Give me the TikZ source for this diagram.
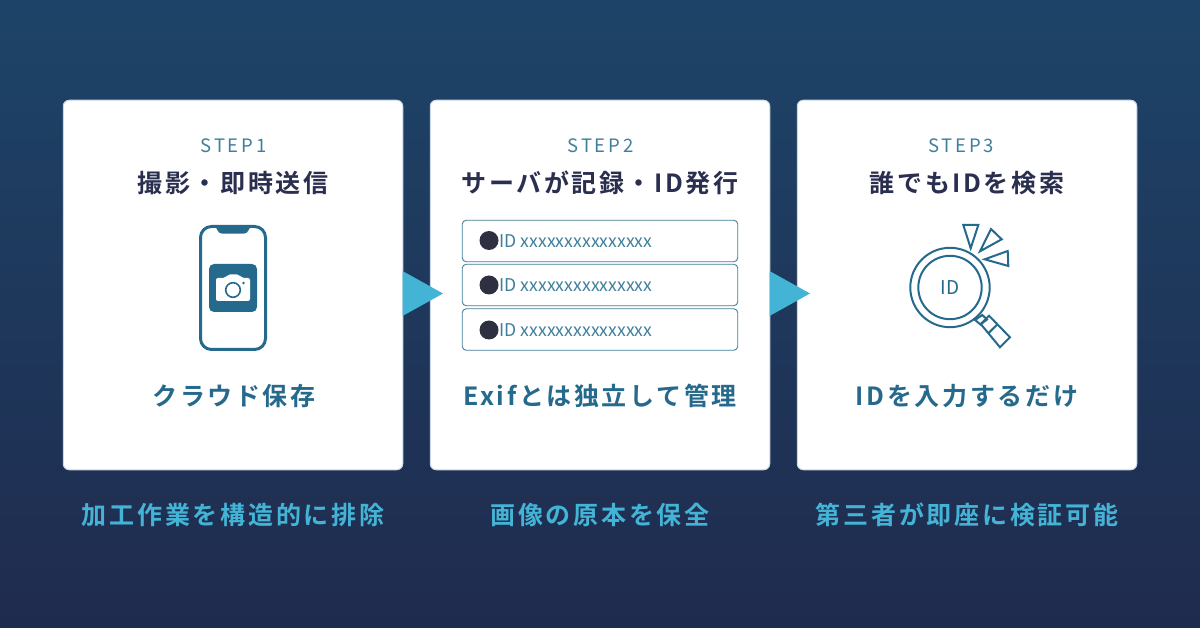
\documentclass[tikz,border=0pt]{standalone}
\usepackage{fontspec}
\setmainfont{Noto Sans CJK JP}
\newfontfamily\jpbold[LetterSpace=10.5]{Noto Sans CJK JP Bold}
\newfontfamily\jpfoot[LetterSpace=11]{Noto Sans CJK JP Bold}
\newfontfamily\jpstep[LetterSpace=15]{Noto Sans CJK JP}
\newfontfamily\jpid{Noto Sans CJK JP}
\definecolor{bgtop}{HTML}{1D4468}
\definecolor{bgbot}{HTML}{1F2B4E}
\definecolor{teal}{HTML}{256A8C}
\definecolor{stepc}{HTML}{3F7F9C}
\definecolor{navy}{HTML}{2A2F50}
\definecolor{sky}{HTML}{44B4D6}
\definecolor{edge}{HTML}{C9D6E6}
\definecolor{dotc}{HTML}{2E2F40}
\tikzset{
  card/.style={draw=edge,line width=1pt,fill=white,rounded corners=6pt,minimum width=339.5pt,minimum height=369.5pt,inner sep=0pt},
  steplabel/.style={text=stepc,font=\jpstep\fontsize{18.5}{20}\selectfont,inner sep=0pt},
  title/.style={text=navy,font=\jpbold\fontsize{25}{28}\selectfont,inner sep=0pt},
  sub/.style={text=teal,font=\jpbold\fontsize{25}{28}\selectfont,inner sep=0pt},
  foot/.style={text=sky,font=\jpfoot\fontsize{25}{28}\selectfont,inner sep=0pt},
  idbox/.style={draw=stepc,line width=0.9pt,fill=white,rounded corners=4pt,minimum width=275.5pt,minimum height=41.5pt,inner sep=0pt},
  idtext/.style={text=stepc,font=\jpid\fontsize{17.6}{20}\selectfont,inner sep=0pt,anchor=west},
  iddot/.style={circle,fill=dotc,minimum size=19pt,inner sep=0pt},
  icon/.style={draw=teal,line width=3pt,line join=round},
  thin icon/.style={draw=teal,line width=2pt,line join=miter},
  pointer/.style={fill=sky,draw=none}
}
\begin{document}
\begin{tikzpicture}[x=1pt,y=-1pt]
\useasboundingbox (0,0) rectangle (1200,628);
\shade[top color=bgtop,bottom color=bgbot] (0,0) rectangle (1200,628);
% cards
\node[card] (card1) at (233,285) {};
\node[card] (card2) at (600,285) {};
\node[card] (card3) at (967,285) {};
% arrows
\fill[pointer] (402.5,271) -- (443,293.5) -- (402.5,316) -- cycle;
\fill[pointer] (769.5,271) -- (810,293.5) -- (769.5,316) -- cycle;
% step labels
\node[steplabel] (s1) at (233.5,146) {STEP1};
\node[steplabel] (s2) at (600.5,146) {STEP2};
\node[steplabel] (s3) at (961,146) {STEP3};
\node[title] (t1) at (233,183) {撮影・即時送信};
\node[title] (t2) at (600,183) {サーバが記録・ID発行};
\node[title] (t3) at (967,183) {誰でもIDを検索};
\node[sub] (b1) at (234,396) {クラウド保存};
\node[sub] (b2) at (600,396) {Exifとは独立して管理};
\node[sub] (b3) at (967,396) {IDを入力するだけ};
\node[foot] (f1) at (233,515) {加工作業を構造的に排除};
\node[foot] (f2) at (600,515) {画像の原本を保全};
\node[foot] (f3) at (967,515) {第三者が即座に検証可能};
% phone
\draw[icon,rounded corners=11pt] (200.5,226.5) rectangle (265.5,349.5);
\fill[teal] (214,226) .. controls (217,226) and (217,233.7) .. (222,233.7) -- (244,233.7) .. controls (249,233.7) and (249,226) .. (252,226) -- cycle;
\fill[teal,rounded corners=5pt] (209,264) rectangle (257,312);
\fill[white,rounded corners=2pt] (216,278) -- (225,278) -- (228,274.5) -- (239,274.5) -- (242,278) -- (250,278) -- (250,301) -- (216,301) -- cycle;
\draw[teal,line width=1.6pt] (233,290) circle (7.3pt);
\fill[teal] (243.5,283) circle (1.3pt);
% id boxes
\node[idbox] (id1) at (600,241) {};
\node[idbox] (id2) at (600,285) {};
\node[idbox] (id3) at (600,329.5) {};
\node[iddot] (d1) at (489,240.5) {};
\node[iddot] (d2) at (489,285) {};
\node[iddot] (d3) at (489,330) {};
\node[idtext] (x1) at (499.5,241) {ID xxxxxxxxxxxxxxx};
\node[idtext] (x2) at (499.5,285.5) {ID xxxxxxxxxxxxxxx};
\node[idtext] (x3) at (499.5,330) {ID xxxxxxxxxxxxxxx};
% magnifier
\draw[thin icon] (950,287.5) circle (39.7pt);
\draw[thin icon] (950,287.5) circle (31.7pt);
\draw[thin icon] (975,320) -- (982.3,315) -- (987,319.5) -- (980.5,324.5) -- cycle;
\draw[thin icon] (980.7,324) -- (989,315.7) -- (1010,337.3) -- (1000,347.3) -- cycle;
\draw[thin icon] (988.3,333.3) -- (997.7,324);
\draw[thin icon] (963.3,225) -- (978.3,225) -- (970.7,248.3) -- cycle;
\draw[thin icon] (991,229) -- (1001.7,239.3) -- (980,251.3) -- cycle;
\draw[thin icon] (1007.7,251) -- (1008.3,266) -- (984.7,259.3) -- cycle;
\node[text=teal,font=\jpid\fontsize{19}{22}\selectfont,inner sep=0pt] (idm) at (950,288) {ID};
\end{tikzpicture}
\end{document}
